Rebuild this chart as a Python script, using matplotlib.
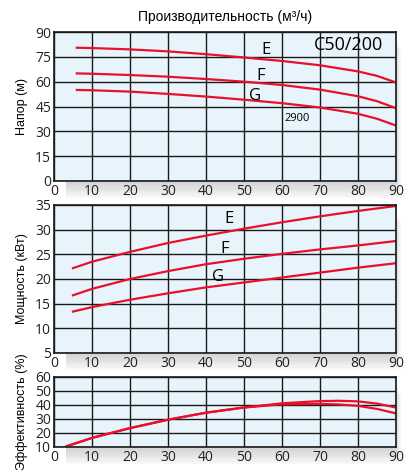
import matplotlib.pyplot as plt
from matplotlib.patches import Rectangle

# head (m)
q_head = [6, 10, 20, 30, 40, 50, 60, 70, 80, 85, 90]
head_E = [80.5, 80.3, 79.5, 78.3, 76.6, 74.6, 72.5, 69.9, 66.2, 63.5, 59.5]
head_F = [65, 64.8, 64, 63, 61.6, 60, 58, 55.2, 51.2, 48.2, 44]
head_G = [55, 54.8, 54, 52.6, 51, 49.1, 47, 44.4, 40.6, 37.6, 33.5]

# power (kW)
q_pow = [5, 10, 20, 30, 40, 50, 60, 70, 80, 90]
pow_E = [22.2, 23.5, 25.5, 27.3, 28.8, 30.2, 31.5, 32.7, 33.8, 34.8]
pow_F = [16.7, 18.0, 20.0, 21.6, 23.0, 24.1, 25.1, 26.0, 26.8, 27.7]
pow_G = [13.4, 14.3, 15.8, 17.1, 18.3, 19.3, 20.3, 21.3, 22.3, 23.2]

# efficiency (%)
q_eff = [3.3, 10, 20, 30, 40, 50, 60, 70, 75, 80, 85, 90]
eff_1 = [10.5, 16.5, 23.5, 29.5, 34.5, 38.2, 41.2, 42.8, 43.0, 42.6, 41.0, 38.2]
eff_2 = [10.5, 16.5, 23.5, 29.5, 34.5, 38.2, 40.5, 40.8, 40.4, 39.4, 37.2, 34.0]

x_ticks = list(range(0, 100, 10))

red = '#e8102a'
bg = '#e8f4fb'
plt.rcParams['font.family'] = ['Open Sans', 'DejaVu Sans']

fig = plt.figure(figsize=(4.06, 4.71), dpi=100)
L, W = 54 / 406, 342 / 406


def frac(top, bottom):
    return [L, 1 - bottom / 471, W, (bottom - top) / 471]


boxes = [frac(32, 181), frac(205, 353), frac(377, 447)]

# soft shadow under each panel
for b in boxes:
    for i in range(7):
        fig.patches.append(Rectangle((b[0] + 0.03, b[1] - 0.006 - i * 0.005), b[2] - 0.03 + i * 0.002,
                                     b[3], transform=fig.transFigure, color='0.5',
                                     alpha=0.05, zorder=-5, lw=0))

axes = [fig.add_axes(b) for b in boxes]
ylims = [(0, 90, 15), (5, 35, 5), (10, 60, 10)]
ylabels = ['Напор (м)', 'Мощность (кВт)', 'Эффективность (%)']

for ax, (lo, hi, st), lab in zip(axes, ylims, ylabels):
    ax.set_zorder(2)
    ax.set_facecolor(bg)
    ax.set_xlim(0, 90)
    ax.set_ylim(lo, hi)
    ax.set_xticks(x_ticks)
    ax.set_yticks(list(range(lo, hi + 1, st)))
    ax.grid(True, color='#1a1a1a', lw=1.0)
    ax.set_axisbelow(True)
    ax.tick_params(length=0, labelsize=10, pad=2, colors='#222222')
    for s in ax.spines.values():
        s.set_color('#1a1a1a')
        s.set_linewidth(1.2)
    ax.set_ylabel(lab, fontsize=9, family=['Liberation Sans'], labelpad=5)

ax1, ax2, ax3 = axes
for y in (head_E, head_F, head_G):
    ax1.plot(q_head, y, color=red, lw=1.6)
ax1.text(55.8, 79, 'E', fontsize=12, ha='center', va='center')
ax1.text(54.5, 63.4, 'F', fontsize=12, ha='center', va='center')
ax1.text(52.9, 51.5, 'G', fontsize=12, ha='center', va='center')
ax1.text(63.9, 38, '2900', fontsize=8, ha='center', va='center')
ax1.text(77.6, 82, 'C50/200', fontsize=13, ha='center', va='center')
ax1.set_title('Производительность (м³/ч)', fontsize=10, family=['Liberation Sans'], pad=8)

for y in (pow_E, pow_F, pow_G):
    ax2.plot(q_pow, y, color=red, lw=1.6)
ax2.text(46, 32.2, 'E', fontsize=12, ha='center', va='center')
ax2.text(45, 26.1, 'F', fontsize=12, ha='center', va='center')
ax2.text(43.2, 20.4, 'G', fontsize=12, ha='center', va='center')

for y in (eff_1, eff_2):
    ax3.plot(q_eff, y, color=red, lw=1.6)

fig.savefig('out.png', dpi=100)
